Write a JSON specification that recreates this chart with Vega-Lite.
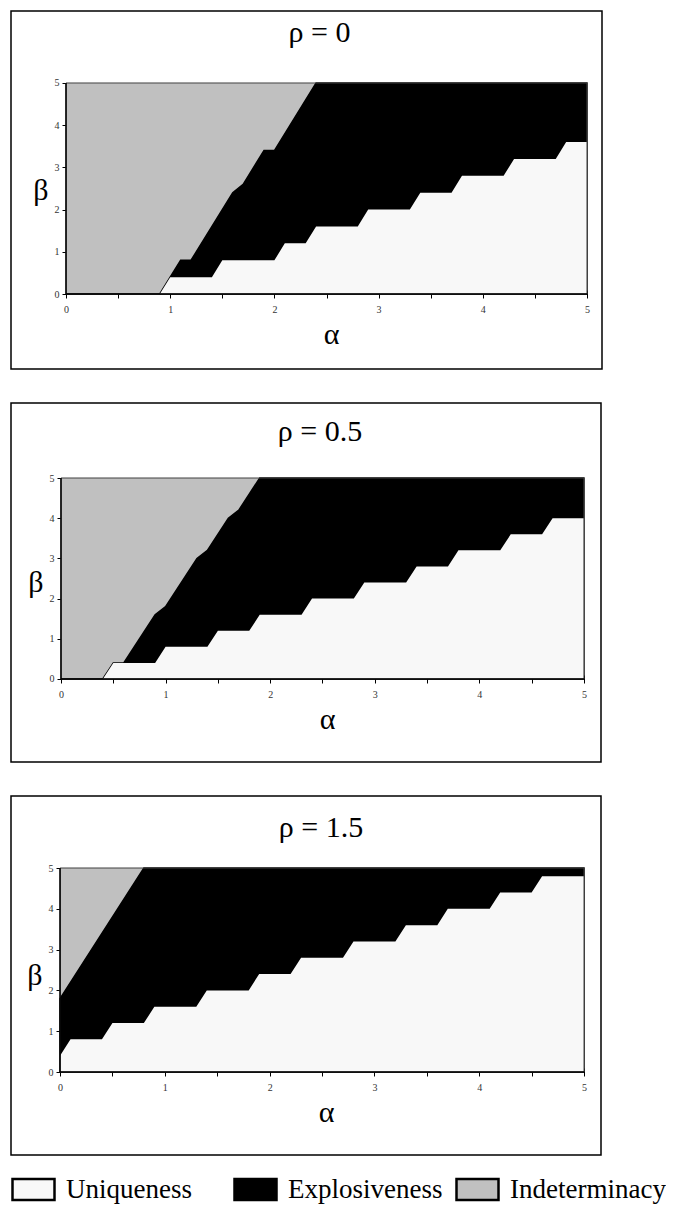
{
  "$schema": "https://vega.github.io/schema/vega-lite/v6.json",
  "background": "white",
  "padding": {"left": 10, "top": 10, "right": 0, "bottom": 0},
  "spacing": 32,
  "datasets": {
    "regions": [
      {"p": "0", "r": "Indeterminacy", "a": 0, "b": 5},
      {"p": "0", "r": "Indeterminacy", "a": 5, "b": 5},
      {"p": "0", "r": "Explosiveness", "a": 0, "b": 0},
      {"p": "0", "r": "Explosiveness", "a": 0.9, "b": 0},
      {"p": "0", "r": "Explosiveness", "a": 1.1, "b": 0.8},
      {"p": "0", "r": "Explosiveness", "a": 1.2, "b": 0.8},
      {"p": "0", "r": "Explosiveness", "a": 1.6, "b": 2.4},
      {"p": "0", "r": "Explosiveness", "a": 1.7, "b": 2.6},
      {"p": "0", "r": "Explosiveness", "a": 1.9, "b": 3.4},
      {"p": "0", "r": "Explosiveness", "a": 2.0, "b": 3.4},
      {"p": "0", "r": "Explosiveness", "a": 2.4, "b": 5},
      {"p": "0", "r": "Explosiveness", "a": 5, "b": 5},
      {"p": "0", "r": "Uniqueness", "a": 0.9, "b": 0},
      {"p": "0", "r": "Uniqueness", "a": 1.0, "b": 0.4},
      {"p": "0", "r": "Uniqueness", "a": 1.4, "b": 0.4},
      {"p": "0", "r": "Uniqueness", "a": 1.5, "b": 0.8},
      {"p": "0", "r": "Uniqueness", "a": 2.0, "b": 0.8},
      {"p": "0", "r": "Uniqueness", "a": 2.1, "b": 1.2},
      {"p": "0", "r": "Uniqueness", "a": 2.3, "b": 1.2},
      {"p": "0", "r": "Uniqueness", "a": 2.4, "b": 1.6},
      {"p": "0", "r": "Uniqueness", "a": 2.8, "b": 1.6},
      {"p": "0", "r": "Uniqueness", "a": 2.9, "b": 2.0},
      {"p": "0", "r": "Uniqueness", "a": 3.3, "b": 2.0},
      {"p": "0", "r": "Uniqueness", "a": 3.4, "b": 2.4},
      {"p": "0", "r": "Uniqueness", "a": 3.7, "b": 2.4},
      {"p": "0", "r": "Uniqueness", "a": 3.8, "b": 2.8},
      {"p": "0", "r": "Uniqueness", "a": 4.2, "b": 2.8},
      {"p": "0", "r": "Uniqueness", "a": 4.3, "b": 3.2},
      {"p": "0", "r": "Uniqueness", "a": 4.7, "b": 3.2},
      {"p": "0", "r": "Uniqueness", "a": 4.8, "b": 3.6},
      {"p": "0", "r": "Uniqueness", "a": 5, "b": 3.6},

      {"p": "0.5", "r": "Indeterminacy", "a": 0, "b": 5},
      {"p": "0.5", "r": "Indeterminacy", "a": 5, "b": 5},
      {"p": "0.5", "r": "Explosiveness", "a": 0, "b": 0},
      {"p": "0.5", "r": "Explosiveness", "a": 0.4, "b": 0},
      {"p": "0.5", "r": "Explosiveness", "a": 0.5, "b": 0.4},
      {"p": "0.5", "r": "Explosiveness", "a": 0.6, "b": 0.4},
      {"p": "0.5", "r": "Explosiveness", "a": 0.9, "b": 1.6},
      {"p": "0.5", "r": "Explosiveness", "a": 1.0, "b": 1.8},
      {"p": "0.5", "r": "Explosiveness", "a": 1.3, "b": 3.0},
      {"p": "0.5", "r": "Explosiveness", "a": 1.4, "b": 3.2},
      {"p": "0.5", "r": "Explosiveness", "a": 1.6, "b": 4.0},
      {"p": "0.5", "r": "Explosiveness", "a": 1.7, "b": 4.2},
      {"p": "0.5", "r": "Explosiveness", "a": 1.9, "b": 5},
      {"p": "0.5", "r": "Explosiveness", "a": 5, "b": 5},
      {"p": "0.5", "r": "Uniqueness", "a": 0.4, "b": 0},
      {"p": "0.5", "r": "Uniqueness", "a": 0.5, "b": 0.4},
      {"p": "0.5", "r": "Uniqueness", "a": 0.9, "b": 0.4},
      {"p": "0.5", "r": "Uniqueness", "a": 1.0, "b": 0.8},
      {"p": "0.5", "r": "Uniqueness", "a": 1.4, "b": 0.8},
      {"p": "0.5", "r": "Uniqueness", "a": 1.5, "b": 1.2},
      {"p": "0.5", "r": "Uniqueness", "a": 1.8, "b": 1.2},
      {"p": "0.5", "r": "Uniqueness", "a": 1.9, "b": 1.6},
      {"p": "0.5", "r": "Uniqueness", "a": 2.3, "b": 1.6},
      {"p": "0.5", "r": "Uniqueness", "a": 2.4, "b": 2.0},
      {"p": "0.5", "r": "Uniqueness", "a": 2.8, "b": 2.0},
      {"p": "0.5", "r": "Uniqueness", "a": 2.9, "b": 2.4},
      {"p": "0.5", "r": "Uniqueness", "a": 3.3, "b": 2.4},
      {"p": "0.5", "r": "Uniqueness", "a": 3.4, "b": 2.8},
      {"p": "0.5", "r": "Uniqueness", "a": 3.7, "b": 2.8},
      {"p": "0.5", "r": "Uniqueness", "a": 3.8, "b": 3.2},
      {"p": "0.5", "r": "Uniqueness", "a": 4.2, "b": 3.2},
      {"p": "0.5", "r": "Uniqueness", "a": 4.3, "b": 3.6},
      {"p": "0.5", "r": "Uniqueness", "a": 4.6, "b": 3.6},
      {"p": "0.5", "r": "Uniqueness", "a": 4.7, "b": 4.0},
      {"p": "0.5", "r": "Uniqueness", "a": 5, "b": 4.0},

      {"p": "1.5", "r": "Indeterminacy", "a": 0, "b": 5},
      {"p": "1.5", "r": "Indeterminacy", "a": 5, "b": 5},
      {"p": "1.5", "r": "Explosiveness", "a": 0, "b": 1.8},
      {"p": "1.5", "r": "Explosiveness", "a": 0.8, "b": 5},
      {"p": "1.5", "r": "Explosiveness", "a": 5, "b": 5},
      {"p": "1.5", "r": "Uniqueness", "a": 0, "b": 0.4},
      {"p": "1.5", "r": "Uniqueness", "a": 0.1, "b": 0.8},
      {"p": "1.5", "r": "Uniqueness", "a": 0.4, "b": 0.8},
      {"p": "1.5", "r": "Uniqueness", "a": 0.5, "b": 1.2},
      {"p": "1.5", "r": "Uniqueness", "a": 0.8, "b": 1.2},
      {"p": "1.5", "r": "Uniqueness", "a": 0.9, "b": 1.6},
      {"p": "1.5", "r": "Uniqueness", "a": 1.3, "b": 1.6},
      {"p": "1.5", "r": "Uniqueness", "a": 1.4, "b": 2.0},
      {"p": "1.5", "r": "Uniqueness", "a": 1.8, "b": 2.0},
      {"p": "1.5", "r": "Uniqueness", "a": 1.9, "b": 2.4},
      {"p": "1.5", "r": "Uniqueness", "a": 2.2, "b": 2.4},
      {"p": "1.5", "r": "Uniqueness", "a": 2.3, "b": 2.8},
      {"p": "1.5", "r": "Uniqueness", "a": 2.7, "b": 2.8},
      {"p": "1.5", "r": "Uniqueness", "a": 2.8, "b": 3.2},
      {"p": "1.5", "r": "Uniqueness", "a": 3.2, "b": 3.2},
      {"p": "1.5", "r": "Uniqueness", "a": 3.3, "b": 3.6},
      {"p": "1.5", "r": "Uniqueness", "a": 3.6, "b": 3.6},
      {"p": "1.5", "r": "Uniqueness", "a": 3.7, "b": 4.0},
      {"p": "1.5", "r": "Uniqueness", "a": 4.1, "b": 4.0},
      {"p": "1.5", "r": "Uniqueness", "a": 4.2, "b": 4.4},
      {"p": "1.5", "r": "Uniqueness", "a": 4.5, "b": 4.4},
      {"p": "1.5", "r": "Uniqueness", "a": 4.6, "b": 4.8},
      {"p": "1.5", "r": "Uniqueness", "a": 5, "b": 4.8}
    ]
  },
  "data": {"name": "regions"},
  "vconcat": [
    {
      "width": 591,
      "height": 358,
      "title": {"text": "ρ = 0", "offset": -37, "dx": 13},
      "layer": [
        {
          "transform": [{"filter": "datum.p === '0' && datum.r === 'Indeterminacy'"}],
          "mark": {"type": "area", "opacity": 1},
          "encoding": {
            "x": {"field": "a", "type": "quantitative", "scale": {"domain": [-0.528, 5.144], "nice": false, "zero": false},
              "axis": {"title": "α", "titleX": 320, "values": [0, 0.5, 1, 1.5, 2, 2.5, 3, 3.5, 4, 4.5, 5], "labelExpr": "datum.value % 1 === 0 ? format(datum.value, 'd') : ''", "offset": -79}},
            "y": {"field": "b", "type": "quantitative", "stack": null, "scale": {"domain": [-1.777, 6.706], "nice": false, "zero": false},
              "axis": {"title": "β", "values": [0, 1, 2, 3, 4, 5], "format": "d", "offset": -55}},
            "y2": {"datum": 0},
            "color": {"field": "r", "type": "nominal", "scale": {"domain": ["Uniqueness", "Explosiveness", "Indeterminacy"], "range": ["#f8f8f8", "#000000", "#c0c0c0"]}, "legend": {"title": null}}
          }
        },
        {
          "transform": [{"filter": "datum.p === '0' && datum.r === 'Explosiveness'"}],
          "mark": {"type": "area", "opacity": 1, "stroke": "black", "strokeWidth": 1.5},
          "encoding": {
            "x": {"field": "a", "type": "quantitative"},
            "y": {"field": "b", "type": "quantitative", "stack": null},
            "y2": {"datum": 0},
            "color": {"field": "r", "type": "nominal"}
          }
        },
        {
          "transform": [{"filter": "datum.p === '0' && datum.r === 'Uniqueness'"}],
          "mark": {"type": "area", "opacity": 1},
          "encoding": {
            "x": {"field": "a", "type": "quantitative"},
            "y": {"field": "b", "type": "quantitative", "stack": null},
            "y2": {"datum": 0},
            "color": {"field": "r", "type": "nominal"}
          }
        },
        {
          "data": {"values": [{}]},
          "mark": {"type": "rect", "filled": false, "color": "#404040", "strokeWidth": 1},
          "encoding": {"x": {"datum": 0, "type": "quantitative"}, "x2": {"datum": 5}, "y": {"datum": 0, "type": "quantitative"}, "y2": {"datum": 5}}
        },
        {
          "data": {"values": [{}]},
          "mark": {"type": "rule", "color": "black", "strokeWidth": 1.5},
          "encoding": {"x": {"datum": 0, "type": "quantitative"}, "x2": {"datum": 5}, "y": {"datum": 0, "type": "quantitative"}}
        },
        {
          "data": {"values": [{}]},
          "mark": {"type": "rule", "color": "black", "strokeWidth": 1.5},
          "encoding": {"x": {"datum": 0, "type": "quantitative"}, "y": {"datum": 0, "type": "quantitative"}, "y2": {"datum": 5}}
        }
      ]
    },
    {
      "width": 590,
      "height": 359,
      "title": {"text": "ρ = 0.5", "offset": -44, "dx": 14},
      "layer": [
        {
          "transform": [{"filter": "datum.p === '0.5' && datum.r === 'Indeterminacy'"}],
          "mark": {"type": "area", "opacity": 1},
          "encoding": {
            "x": {"field": "a", "type": "quantitative", "scale": {"domain": [-0.478, 5.163], "nice": false, "zero": false},
              "axis": {"title": "α", "titleX": 316, "values": [0, 0.5, 1, 1.5, 2, 2.5, 3, 3.5, 4, 4.5, 5], "labelExpr": "datum.value % 1 === 0 ? format(datum.value, 'd') : ''", "offset": -87}},
            "y": {"field": "b", "type": "quantitative", "stack": null, "scale": {"domain": [-2.065, 6.866], "nice": false, "zero": false},
              "axis": {"title": "β", "values": [0, 1, 2, 3, 4, 5], "format": "d", "offset": -50}},
            "y2": {"datum": 0},
            "color": {"field": "r", "type": "nominal", "scale": {"domain": ["Uniqueness", "Explosiveness", "Indeterminacy"], "range": ["#f8f8f8", "#000000", "#c0c0c0"]}, "legend": {"title": null}}
          }
        },
        {
          "transform": [{"filter": "datum.p === '0.5' && datum.r === 'Explosiveness'"}],
          "mark": {"type": "area", "opacity": 1, "stroke": "black", "strokeWidth": 1.5},
          "encoding": {
            "x": {"field": "a", "type": "quantitative"},
            "y": {"field": "b", "type": "quantitative", "stack": null},
            "y2": {"datum": 0},
            "color": {"field": "r", "type": "nominal"}
          }
        },
        {
          "transform": [{"filter": "datum.p === '0.5' && datum.r === 'Uniqueness'"}],
          "mark": {"type": "area", "opacity": 1},
          "encoding": {
            "x": {"field": "a", "type": "quantitative"},
            "y": {"field": "b", "type": "quantitative", "stack": null},
            "y2": {"datum": 0},
            "color": {"field": "r", "type": "nominal"}
          }
        },
        {
          "data": {"values": [{}]},
          "mark": {"type": "rect", "filled": false, "color": "#404040", "strokeWidth": 1},
          "encoding": {"x": {"datum": 0, "type": "quantitative"}, "x2": {"datum": 5}, "y": {"datum": 0, "type": "quantitative"}, "y2": {"datum": 5}}
        },
        {
          "data": {"values": [{}]},
          "mark": {"type": "rule", "color": "black", "strokeWidth": 1.5},
          "encoding": {"x": {"datum": 0, "type": "quantitative"}, "x2": {"datum": 5}, "y": {"datum": 0, "type": "quantitative"}}
        },
        {
          "data": {"values": [{}]},
          "mark": {"type": "rule", "color": "black", "strokeWidth": 1.5},
          "encoding": {"x": {"datum": 0, "type": "quantitative"}, "y": {"datum": 0, "type": "quantitative"}, "y2": {"datum": 5}}
        }
      ]
    },
    {
      "width": 590,
      "height": 359,
      "title": {"text": "ρ = 1.5", "offset": -47, "dx": 15},
      "layer": [
        {
          "transform": [{"filter": "datum.p === '1.5' && datum.r === 'Indeterminacy'"}],
          "mark": {"type": "area", "opacity": 1},
          "encoding": {
            "x": {"field": "a", "type": "quantitative", "scale": {"domain": [-0.468, 5.162], "nice": false, "zero": false},
              "axis": {"title": "α", "titleX": 315, "values": [0, 0.5, 1, 1.5, 2, 2.5, 3, 3.5, 4, 4.5, 5], "labelExpr": "datum.value % 1 === 0 ? format(datum.value, 'd') : ''", "offset": -87}},
            "y": {"field": "b", "type": "quantitative", "stack": null, "scale": {"domain": [-2.034, 6.765], "nice": false, "zero": false},
              "axis": {"title": "β", "values": [0, 1, 2, 3, 4, 5], "format": "d", "offset": -49}},
            "y2": {"datum": 0},
            "color": {"field": "r", "type": "nominal", "scale": {"domain": ["Uniqueness", "Explosiveness", "Indeterminacy"], "range": ["#f8f8f8", "#000000", "#c0c0c0"]}, "legend": {"title": null}}
          }
        },
        {
          "transform": [{"filter": "datum.p === '1.5' && datum.r === 'Explosiveness'"}],
          "mark": {"type": "area", "opacity": 1, "stroke": "black", "strokeWidth": 1.5},
          "encoding": {
            "x": {"field": "a", "type": "quantitative"},
            "y": {"field": "b", "type": "quantitative", "stack": null},
            "y2": {"datum": 0},
            "color": {"field": "r", "type": "nominal"}
          }
        },
        {
          "transform": [{"filter": "datum.p === '1.5' && datum.r === 'Uniqueness'"}],
          "mark": {"type": "area", "opacity": 1},
          "encoding": {
            "x": {"field": "a", "type": "quantitative"},
            "y": {"field": "b", "type": "quantitative", "stack": null},
            "y2": {"datum": 0},
            "color": {"field": "r", "type": "nominal"}
          }
        },
        {
          "data": {"values": [{}]},
          "mark": {"type": "rect", "filled": false, "color": "#404040", "strokeWidth": 1},
          "encoding": {"x": {"datum": 0, "type": "quantitative"}, "x2": {"datum": 5}, "y": {"datum": 0, "type": "quantitative"}, "y2": {"datum": 5}}
        },
        {
          "data": {"values": [{}]},
          "mark": {"type": "rule", "color": "black", "strokeWidth": 1.5},
          "encoding": {"x": {"datum": 0, "type": "quantitative"}, "x2": {"datum": 5}, "y": {"datum": 0, "type": "quantitative"}}
        },
        {
          "data": {"values": [{}]},
          "mark": {"type": "rule", "color": "black", "strokeWidth": 1.5},
          "encoding": {"x": {"datum": 0, "type": "quantitative"}, "y": {"datum": 0, "type": "quantitative"}, "y2": {"datum": 5}}
        }
      ]
    }
  ],
  "resolve": {"scale": {"x": "independent", "y": "independent", "color": "shared"}, "legend": {"color": "shared"}},
  "config": {
    "font": "Liberation Serif",
    "view": {"stroke": "black", "strokeWidth": 1.5},
    "title": {"font": "Liberation Serif", "fontSize": 30, "fontWeight": "normal", "color": "black", "anchor": "middle", "frame": "group", "baseline": "alphabetic"},
    "axis": {
      "grid": false,
      "zindex": 1,
      "domain": false,
      "labelFont": "Liberation Serif",
      "labelFontSize": 10,
      "labelColor": "#333333",
      "labelFlush": false,
      "labelOverlap": false,
      "tickColor": "black",
      "tickWidth": 1,
      "titleFont": "Liberation Serif",
      "titleFontSize": 30,
      "titleFontWeight": "normal",
      "titleColor": "black"
    },
    "axisX": {"tickSize": 8, "labelPadding": 6, "titlePadding": 5},
    "axisY": {"tickSize": 4, "labelPadding": 3, "titleAngle": 0, "titleAlign": "right", "titleBaseline": "middle", "titlePadding": 6},
    "legend": {
      "orient": "bottom",
      "direction": "horizontal",
      "symbolType": "M-1,-0.5H1V0.5H-1Z",
      "symbolSize": 1764,
      "symbolStrokeColor": "black",
      "symbolStrokeWidth": 2.5,
      "symbolOpacity": 1,
      "labelFont": "Liberation Serif",
      "labelFontSize": 27,
      "labelColor": "black",
      "labelOffset": 10,
      "labelLimit": 0,
      "columnPadding": 7,
      "gridAlign": "all",
      "offset": 11,
      "padding": 0
    }
  }
}
